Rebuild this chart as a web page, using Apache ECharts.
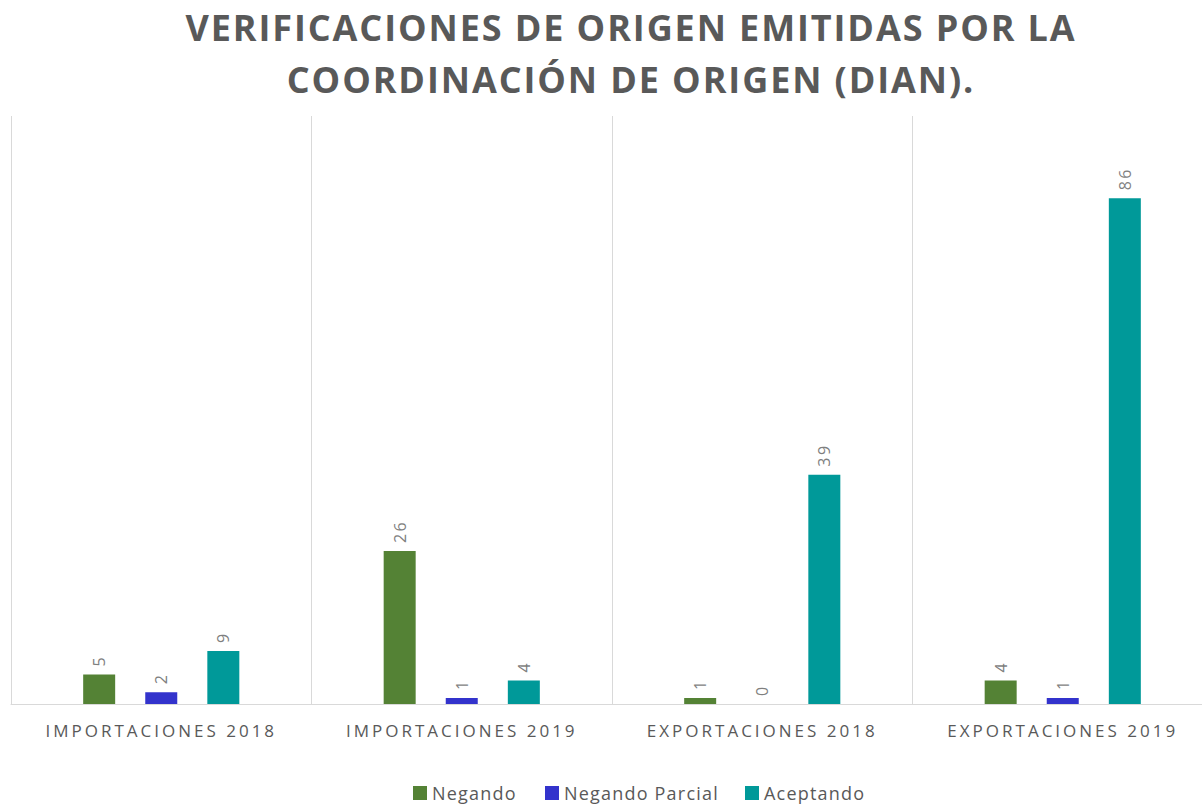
<!DOCTYPE html>
<html>
<head>
<meta charset="utf-8">
<script src="https://cdn.jsdelivr.net/npm/echarts@6/dist/echarts.min.js"></script>
<style>
html,body{margin:0;padding:0;background:#fff;overflow:hidden;width:1202px;height:806px;}
#chart{width:1213px;height:806px;}
#chart text[style*="36px"]{letter-spacing:1.9px;}
#chart text[style*="17px"]{letter-spacing:3px;}
#chart text[style*="18px"]{letter-spacing:1.2px;}
#chart text[style*="16px"]{letter-spacing:2.5px;}
</style>
</head>
<body>
<div id="chart"></div>
<script>
const categories = ['IMPORTACIONES 2018', 'IMPORTACIONES 2019', 'EXPORTACIONES 2018', 'EXPORTACIONES 2019'];
const negando = [5, 26, 1, 4];
const negandoParcial = [2, 1, 0, 1];
const aceptando = [9, 4, 39, 86];
const seriesNames = ['Negando', 'Negando Parcial', 'Aceptando'];
const titleText = 'VERIFICACIONES DE ORIGEN EMITIDAS POR LA\nCOORDINACIÓN DE ORIGEN (DIAN).';

const colors = ['#548235', '#3333CC', '#009999'];
const font = "'Open Sans', sans-serif";

const labelOpt = {
  show: true,
  position: 'top',
  rotate: 90,
  align: 'left',
  verticalAlign: 'middle',
  distance: 8,
  color: '#7f7f7f',
  fontFamily: font,
  fontSize: 16
};

function mkSeries(name, data, color) {
  return {
    name: name,
    type: 'bar',
    data: data,
    barWidth: 32,
    barGap: '94%',
    itemStyle: { color: color },
    label: labelOpt
  };
}

const legendLefts = [408, 540, 740];
function mkLegend(i) {
  return {
    data: [seriesNames[i]],
    top: 779,
    left: legendLefts[i],
    padding: 5,
    icon: 'rect',
    itemWidth: 14,
    itemHeight: 14,
    textStyle: { fontFamily: font, fontSize: 18, color: '#595959' }
  };
}

const chart = echarts.init(document.getElementById('chart'), null, { renderer: 'svg' });
chart.setOption({
  animation: false,
  backgroundColor: '#ffffff',
  title: {
    text: titleText,
    left: 631,
    top: 1,
    padding: 0,
    textAlign: 'center',
    textStyle: {
      fontFamily: font,
      fontWeight: 'bold',
      fontSize: 36,
      lineHeight: 52,
      color: '#595959'
    }
  },
  legend: [mkLegend(0), mkLegend(1), mkLegend(2)],
  grid: { left: 11, right: 0, top: 116, bottom: 102, containLabel: false },
  xAxis: {
    type: 'category',
    data: categories,
    axisTick: { show: false },
    axisLine: { lineStyle: { color: '#d9d9d9', width: 1 } },
    splitLine: { show: true, lineStyle: { color: '#d9d9d9', width: 1 } },
    axisLabel: { margin: 18, color: '#595959', fontFamily: font, fontSize: 17 }
  },
  yAxis: {
    type: 'value',
    min: 0,
    max: 100,
    show: false,
    splitLine: { show: false }
  },
  series: [
    mkSeries(seriesNames[0], negando, colors[0]),
    mkSeries(seriesNames[1], negandoParcial, colors[1]),
    mkSeries(seriesNames[2], aceptando, colors[2])
  ]
});
</script>
</body>
</html>
